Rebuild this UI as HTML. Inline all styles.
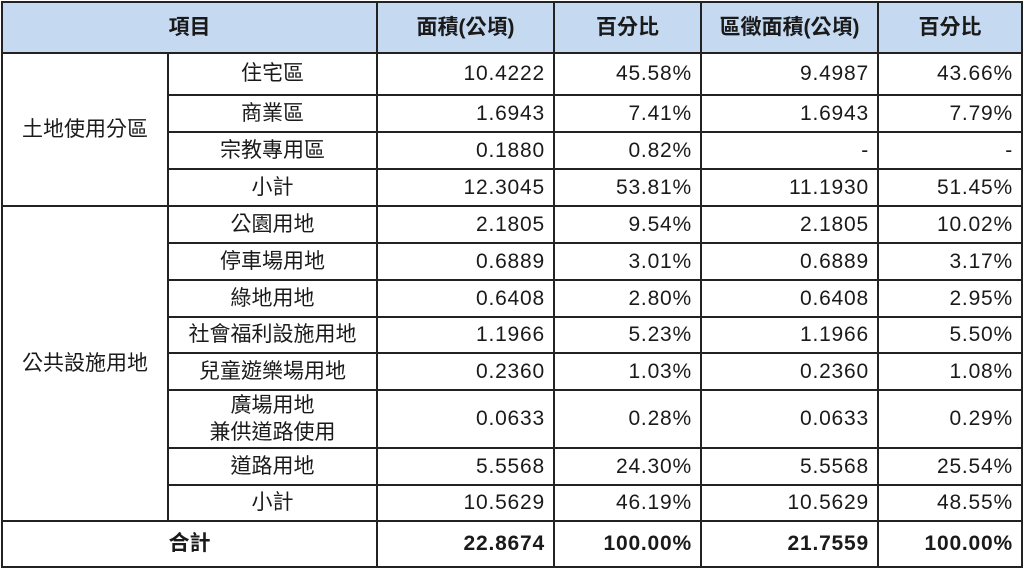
<!DOCTYPE html>
<html><head><meta charset="utf-8"><style>
body{margin:0;width:1024px;height:573px;background:#fff;overflow:hidden;font-family:"Liberation Sans","Noto Sans CJK TC",sans-serif;color:#1a1a1a}
table{position:absolute;left:1px;top:1px;border-collapse:collapse;table-layout:fixed;font-size:21px}
td,th{border:2px solid #222;padding:0 8px;white-space:nowrap;line-height:24px}
th{background:#c5d9f1;font-weight:bold;text-align:center}
td{text-align:right;letter-spacing:0.8px}
td.c{text-align:center;letter-spacing:0}
.b td{font-weight:bold}
</style></head><body>
<table>
<colgroup><col style="width:166px"><col style="width:209px"><col style="width:177px"><col style="width:147px"><col style="width:177px"><col style="width:144px"></colgroup>
<tr style="height:51px"><th colspan="2">項目</th><th>面積(公頃)</th><th>百分比</th><th>區徵面積(公頃)</th><th>百分比</th></tr>
<tr style="height:42px"><td class="c" rowspan="4">土地使用分區</td><td class="c">住宅區</td><td>10.4222</td><td>45.58%</td><td>9.4987</td><td>43.66%</td></tr>
<tr style="height:37px"><td class="c">商業區</td><td>1.6943</td><td>7.41%</td><td>1.6943</td><td>7.79%</td></tr>
<tr style="height:37px"><td class="c">宗教專用區</td><td>0.1880</td><td>0.82%</td><td>-</td><td>-</td></tr>
<tr style="height:37px"><td class="c">小計</td><td>12.3045</td><td>53.81%</td><td>11.1930</td><td>51.45%</td></tr>
<tr style="height:37px"><td class="c" rowspan="8">公共設施用地</td><td class="c">公園用地</td><td>2.1805</td><td>9.54%</td><td>2.1805</td><td>10.02%</td></tr>
<tr style="height:37px"><td class="c">停車場用地</td><td>0.6889</td><td>3.01%</td><td>0.6889</td><td>3.17%</td></tr>
<tr style="height:37px"><td class="c">綠地用地</td><td>0.6408</td><td>2.80%</td><td>0.6408</td><td>2.95%</td></tr>
<tr style="height:36px"><td class="c">社會福利設施用地</td><td>1.1966</td><td>5.23%</td><td>1.1966</td><td>5.50%</td></tr>
<tr style="height:37px"><td class="c">兒童遊樂場用地</td><td>0.2360</td><td>1.03%</td><td>0.2360</td><td>1.08%</td></tr>
<tr style="height:58px"><td class="c" style="line-height:27px">廣場用地<br>兼供道路使用</td><td>0.0633</td><td>0.28%</td><td>0.0633</td><td>0.29%</td></tr>
<tr style="height:37px"><td class="c">道路用地</td><td>5.5568</td><td>24.30%</td><td>5.5568</td><td>25.54%</td></tr>
<tr style="height:36px"><td class="c">小計</td><td>10.5629</td><td>46.19%</td><td>10.5629</td><td>48.55%</td></tr>
<tr class="b" style="height:46px"><td class="c" colspan="2">合計</td><td>22.8674</td><td>100.00%</td><td>21.7559</td><td>100.00%</td></tr>
</table>
</body></html>
